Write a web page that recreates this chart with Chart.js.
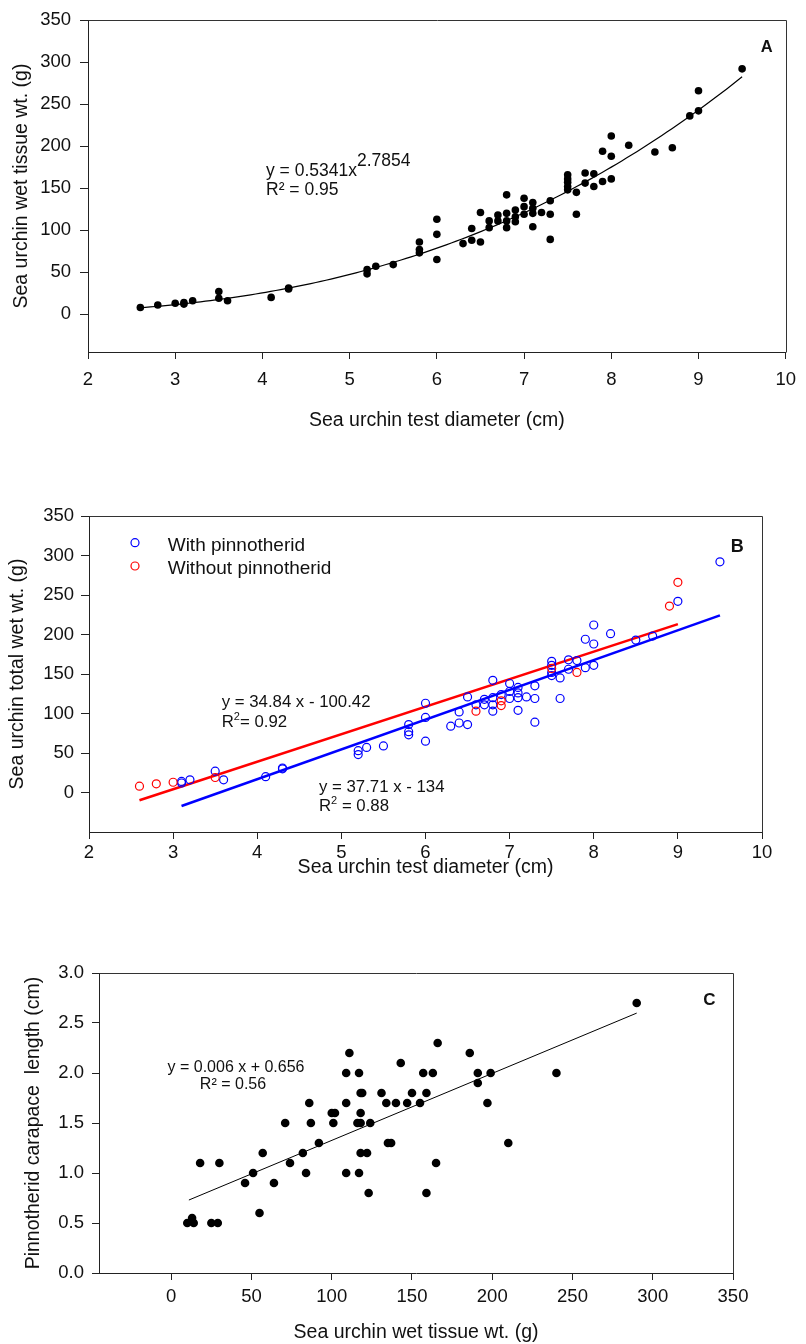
<!DOCTYPE html>
<html><head><meta charset="utf-8">
<script src="https://cdn.jsdelivr.net/npm/chart.js@4.4.0/dist/chart.umd.min.js"></script>
<style>
html,body{margin:0;padding:0;background:#fff;}
body{width:806px;height:1344px;position:relative;overflow:hidden;}
.wrap{position:absolute;left:0;width:806px;}
canvas{display:block;}
</style></head><body>
<div class="wrap" style="top:0;height:440px"><canvas id="cA" width="806" height="440"></canvas></div>
<div class="wrap" style="top:490px;height:400px"><canvas id="cB" width="806" height="400"></canvas></div>
<div class="wrap" style="top:940px;height:404px"><canvas id="cC" width="806" height="404"></canvas></div>
<script>
// ---------- DATA ----------
// Panel A: test diameter (cm) vs wet tissue weight (g)
const diameterA = [2.6,2.8,3.0,3.1,3.1,3.2,3.5,3.5,3.6,4.1,4.3,4.3,5.2,5.2,5.3,5.5,5.8,5.8,5.8,6.0,6.0,6.0,
  6.3,6.4,6.4,6.5,6.5,6.6,6.6,6.7,6.7,6.8,6.8,6.8,6.8,6.9,6.9,6.9,7.0,7.0,7.0,7.1,7.1,7.1,7.1,7.2,
  7.3,7.3,7.3,7.5,7.5,7.5,7.5,7.5,7.6,7.6,7.7,7.7,7.8,7.8,7.9,7.9,8.0,8.0,8.0,8.2,8.5,8.7,8.9,9.0,9.0,9.5];
const tissueA = [8,11,13,14,12,16,27,19,16,20,31,30,53,48,57,59,86,77,73,113,95,65,
  84,102,88,121,86,111,103,118,111,142,120,111,103,124,116,110,138,128,119,133,126,120,104,121,
  135,119,89,166,161,157,152,148,145,119,168,156,167,152,194,158,212,188,161,201,193,198,236,266,242,292];

// Panel B: with / without pinnotherid
const withDiameter = [3.1,3.1,3.2,3.5,3.6,4.1,4.3,4.3,5.2,5.2,5.3,5.5,5.8,5.8,5.8,6.0,6.0,6.0,
  6.3,6.4,6.4,6.5,6.5,6.6,6.7,6.7,6.8,6.8,6.8,6.8,6.9,7.0,7.0,7.0,7.1,7.1,7.1,7.1,7.2,
  7.3,7.3,7.3,7.5,7.5,7.5,7.5,7.6,7.6,7.7,7.7,7.8,7.9,7.9,8.0,8.0,8.0,8.2,8.5,8.7,9.0,9.5];
const withTotal = [14,12,16,27,16,20,31,30,53,48,57,59,86,77,73,113,95,65,
  84,102,88,121,86,111,118,111,142,120,111,103,124,138,128,119,133,126,120,104,121,
  135,119,89,166,161,152,148,145,119,168,156,167,194,158,212,188,161,201,193,198,242,292];
const withoutDiameter = [2.6,2.8,3.0,3.5,6.6,6.9,6.9,7.5,7.8,8.9,9.0];
const withoutTotal = [8,11,13,19,103,116,110,157,152,236,266];

// Panel C: wet tissue weight (g) vs pinnotherid carapace length (cm)
const tissueC = [10,13,14,25,29,18,30,55,46,51,57,64,71,74,82,84,86,87,92,100,102,101,109,109,109,111,
  116,118,117,117,118,119,118,118,122,123,124,131,134,135,137,140,143,147,150,155,157,159,159,163,165,166,
  186,191,191,199,197,210,240,290];
const carapaceC = [0.5,0.55,0.5,0.5,0.5,1.1,1.1,0.6,0.9,1.0,1.2,0.9,1.5,1.1,1.2,1.0,1.7,1.5,1.3,1.6,1.6,1.5,1.7,1.0,2.0,2.2,
  1.5,1.5,2.0,1.0,1.8,1.8,1.6,1.2,1.2,0.8,1.5,1.8,1.7,1.3,1.3,1.7,2.1,1.7,1.8,1.7,2.0,1.8,0.8,2.0,1.1,2.3,
  2.2,2.0,1.9,2.0,1.7,1.3,2.0,2.7];

// Tick labels
const xTicksAB = [2,3,4,5,6,7,8,9,10];
const yTicksAB = [0,50,100,150,200,250,300,350];
const xTicksC = [0,50,100,150,200,250,300,350];
const yTicksC = [0,0.5,1.0,1.5,2.0,2.5,3.0];

// Fitted relations (as printed on the figure)
const powerFitA = {a:0.5341, b:2.7854, xMin:2.6, xMax:9.5};
const fitWith = {slope:37.71, intercept:-134, xMin:3.1, xMax:9.5};
const fitWithout = {slope:34.84, intercept:-100.42, xMin:2.6, xMax:9.0};
const fitC = {slope:0.0067, intercept:0.656, xMin:11, xMax:290};

// ---------- HELPERS ----------
const FONT = '"Liberation Sans", Arial, Helvetica, sans-serif';
const INK = '#111';
const zip = (xs, ys) => xs.map((x,i)=>({x, y:ys[i]}));
const lineFit = f => [{x:f.xMin, y:f.slope*f.xMin+f.intercept},{x:f.xMax, y:f.slope*f.xMax+f.intercept}];
function powerCurve(f, n){ const p=[]; for(let i=0;i<=n;i++){const x=f.xMin+(f.xMax-f.xMin)*i/n; p.push({x, y:f.a*Math.pow(x,f.b)});} return p; }

function axis(o){
  return {
    type:'linear', position:o.position, min:o.min, max:o.max,
    afterBuildTicks: s => { s.ticks = o.ticks.map(v=>({value:v})); },
    afterFit: s => { if (o.position==='bottom') s.height = o.size; else s.width = o.size; },
    grid:{display:true, drawOnChartArea:false, drawTicks:true, tickLength:o.tl, tickWidth:1, tickColor:'#222'},
    border:{display:true, color:'#222', width:1},
    ticks:{padding:o.pad, color:INK, autoSkip:false, maxRotation:0, minRotation:0,
      font:{family:FONT, size:18.5}, callback: o.fmt || (v=>String(v))},
    title:{display:true, text:o.title, color:INK, font:{family:FONT, size:19.5, lineHeight:1.2},
      padding:{top:o.tpad, bottom:o.tpad}}
  };
}

const framePlugin = {
  id:'frame',
  afterDraw(chart){
    const {ctx, chartArea:a} = chart;
    ctx.save(); ctx.strokeStyle='#333'; ctx.lineWidth=1;
    ctx.beginPath();
    ctx.moveTo(Math.round(a.left)+0.5, Math.round(a.top)+0.5);
    ctx.lineTo(Math.round(a.right)+0.5, Math.round(a.top)+0.5);
    ctx.lineTo(Math.round(a.right)+0.5, Math.round(a.bottom)+0.5);
    ctx.stroke(); ctx.restore();
  }
};
const textPlugin = {
  id:'texts',
  afterDraw(chart, args, opts){
    const ctx = chart.ctx; ctx.save(); ctx.textBaseline='alphabetic'; ctx.textAlign='left';
    (opts.items||[]).forEach(it=>{
      let w = 0;
      it.parts.forEach(p=>{ ctx.font=`${p.bold?'bold ':''}${p.size}px ${FONT}`; w += ctx.measureText(p.t).width; });
      let x = it.align==='center' ? it.x - w/2 : it.x;
      it.parts.forEach(p=>{
        ctx.font=`${p.bold?'bold ':''}${p.size}px ${FONT}`;
        ctx.fillStyle = p.color || INK;
        ctx.fillText(p.t, x, it.y + (p.dy||0));
        x += ctx.measureText(p.t).width;
      });
    });
    (opts.legend||[]).forEach(l=>{
      ctx.beginPath(); ctx.arc(l.cx, l.cy, 4, 0, Math.PI*2);
      ctx.strokeStyle=l.color; ctx.lineWidth=1.2; ctx.stroke();
      ctx.font=`19px ${FONT}`; ctx.fillStyle=INK; ctx.fillText(l.text, l.tx, l.ty);
    });
    ctx.restore();
  }
};

const baseOpts = (pad) => ({
  responsive:false, animation:false, devicePixelRatio:1,
  layout:{padding:pad},
  plugins:{legend:{display:false}, tooltip:{enabled:false}}
});

// ---------- PANEL A ----------
new Chart(document.getElementById('cA'), {
  type:'scatter',
  data:{datasets:[
    {data:powerCurve(powerFitA, 120), showLine:true, borderColor:'#000', borderWidth:1.2, pointRadius:0, order:2},
    {data:zip(diameterA, tissueA), pointRadius:3.8, pointBackgroundColor:'#000', pointBorderWidth:0, order:1}
  ]},
  options:Object.assign(baseOpts({top:17, right:10, left:0, bottom:0}), {
    scales:{
      x: axis({position:'bottom', min:2, max:10, ticks:xTicksAB, size:88, tl:7, pad:10, title:'Sea urchin test diameter (cm)', tpad:7.3}),
      y: axis({position:'left', min:-45, max:350, ticks:yTicksAB, size:88, tl:8, pad:9, title:'Sea urchin wet tissue wt. (g)', tpad:10.3})
    },
    plugins:{legend:{display:false}, tooltip:{enabled:false},
      texts:{items:[
        {x:266, y:176, parts:[{t:'y = 0.5341x', size:17.5},{t:'2.7854', size:17.5, dy:-10.5}]},
        {x:266, y:195, parts:[{t:'R² = 0.95', size:17.5}]},
        {x:760.7, y:52.3, parts:[{t:'A', size:16.5, bold:true}]}
      ]}}
  }),
  plugins:[framePlugin, textPlugin]
});

// ---------- PANEL B ----------
new Chart(document.getElementById('cB'), {
  type:'scatter',
  data:{datasets:[
    {label:'With pinnotherid line', data:lineFit(fitWith), showLine:true, borderColor:'#0000ff', borderWidth:2.5, pointRadius:0, order:3},
    {label:'Without pinnotherid line', data:lineFit(fitWithout), showLine:true, borderColor:'#ff0000', borderWidth:2.5, pointRadius:0, order:4},
    {label:'With pinnotherid', data:zip(withDiameter, withTotal), pointRadius:4, pointBorderWidth:1.2, pointBorderColor:'#0000ff', pointBackgroundColor:'rgba(0,0,0,0)', order:2},
    {label:'Without pinnotherid', data:zip(withoutDiameter, withoutTotal), pointRadius:4, pointBorderWidth:1.2, pointBorderColor:'#ff0000', pointBackgroundColor:'rgba(0,0,0,0)', order:1}
  ]},
  options:Object.assign(baseOpts({top:26, right:44, left:0, bottom:0}), {
    scales:{
      x: axis({position:'bottom', min:2, max:10, ticks:xTicksAB, size:58, tl:7, pad:3, title:'Sea urchin test diameter (cm)', tpad:10.3}),
      y: axis({position:'left', min:-50, max:350, ticks:yTicksAB, size:89, tl:8, pad:7, title:'Sea urchin total wet wt. (g)', tpad:5.8})
    },
    plugins:{legend:{display:false}, tooltip:{enabled:false},
      texts:{
        items:[
          {x:221.7, y:216.7, parts:[{t:'y = 34.84 x - 100.42', size:16.8}]},
          {x:221.7, y:236.7, parts:[{t:'R', size:16.8},{t:'2', size:11, dy:-7},{t:'= 0.92', size:16.8}]},
          {x:319, y:301.7, parts:[{t:'y = 37.71 x - 134', size:16.8}]},
          {x:319, y:320.7, parts:[{t:'R', size:16.8},{t:'2', size:11, dy:-7},{t:' = 0.88', size:16.8}]},
          {x:730.7, y:61.7, parts:[{t:'B', size:18, bold:true}]}
        ],
        legend:[
          {cx:135, cy:52.7, color:'#0000ff', text:'With pinnotherid', tx:167.7, ty:60.5},
          {cx:135, cy:76, color:'#ff0000', text:'Without pinnotherid', tx:167.7, ty:83.5}
        ]
      }}
  }),
  plugins:[framePlugin, textPlugin]
});

// ---------- PANEL C ----------
new Chart(document.getElementById('cC'), {
  type:'scatter',
  data:{datasets:[
    {data:lineFit(fitC), showLine:true, borderColor:'#000', borderWidth:1, pointRadius:0, order:2},
    {data:zip(tissueC, carapaceC), pointRadius:4.3, pointBackgroundColor:'#000', pointBorderWidth:0, order:1}
  ]},
  options:Object.assign(baseOpts({top:33, right:73, left:0, bottom:0}), {
    scales:{
      x: axis({position:'bottom', min:-45, max:350, ticks:xTicksC, size:71, tl:7, pad:6, title:'Sea urchin wet tissue wt. (g)', tpad:0}),
      y: axis({position:'left', min:0, max:3, ticks:yTicksC, size:99, tl:7, pad:8, fmt:v=>v.toFixed(1), title:'Pinnotherid carapace  length (cm)', tpad:22.3})
    },
    plugins:{legend:{display:false}, tooltip:{enabled:false},
      texts:{items:[
        {x:236, y:131.7, align:'center', parts:[{t:'y = 0.006 x + 0.656', size:16}]},
        {x:233, y:149.3, align:'center', parts:[{t:'R² = 0.56', size:16}]},
        {x:703.3, y:65, parts:[{t:'C', size:17, bold:true}]}
      ]}}
  }),
  plugins:[framePlugin, textPlugin]
});
</script>
</body></html>
